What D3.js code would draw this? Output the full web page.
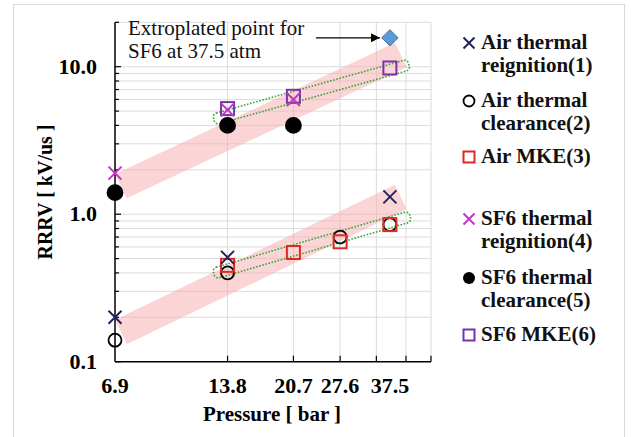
<!DOCTYPE html>
<html>
<head>
<meta charset="utf-8">
<script src="https://cdn.jsdelivr.net/npm/d3@7"></script>
<style>
  html, body { margin: 0; padding: 0; background: #fff; }
  svg { display: block; }
  text { font-family: "Liberation Serif", "Times New Roman", serif; }
</style>
</head>
<body>
<svg id="chart" width="631" height="437"></svg>
<script>
// ---------- data ----------
const gridPressures = [6.9, 13.8, 20.7, 27.6, 34.5, 41.4, 48.3];
const xTickLabels = [6.9, 13.8, 20.7, 27.6, 37.5];
const yTickLabels = [0.1, 1.0, 10.0];
const yMinorTicks = [0.2,0.3,0.4,0.5,0.6,0.7,0.8,0.9,1,2,3,4,5,6,7,8,9,10,20];

const airReignitionP = [6.9, 13.8, 37.5];
const airReignitionV = [0.2, 0.51, 1.31];
const airClearanceP = [6.9, 13.8, 27.6, 37.5];
const airClearanceV = [0.14, 0.40, 0.70, 0.85];
const airMKEP = [13.8, 20.7, 27.6, 37.5];
const airMKEV = [0.45, 0.55, 0.65, 0.85];
const sf6ReignitionP = [6.9, 13.8, 20.7];
const sf6ReignitionV = [1.9, 5.1, 6.0];
const sf6ClearanceP = [6.9, 13.8, 20.7];
const sf6ClearanceV = [1.4, 4.0, 4.0];
const sf6MKEP = [13.8, 20.7, 37.5];
const sf6MKEV = [5.2, 6.3, 9.8];
const extrapolatedP = [37.5];
const extrapolatedV = [15.7];

// trend bands (pink) and groupings (green dotted), endpoints in data units
const bandStartP = [7.16, 7.16];
const bandStartV = [1.55, 0.159];
const bandEndP = [40.1, 40.1];
const bandEndV = [12.0, 1.31];
const groupStartP = [13.1, 13.1];
const groupStartV = [4.49, 0.405];
const groupEndP = [40.8, 41.1];
const groupEndV = [10.1, 0.943];

const legendLabels = [
  ["Air thermal", "reignition(1)"],
  ["Air thermal", "clearance(2)"],
  ["Air MKE(3)"],
  ["SF6 thermal", "reignition(4)"],
  ["SF6 thermal", "clearance(5)"],
  ["SF6 MKE(6)"]
];

// ---------- chart ----------
const svg = d3.select("#chart");
const x = d3.scaleLog().domain([6.9, 48.3]).range([115, 431]);
const y = d3.scaleLog().domain([0.1, 20]).range([361.7, 22.3]);

// outer frame
svg.append("rect").attr("x", 13.5).attr("y", 4.5).attr("width", 611).attr("height", 440)
  .attr("fill", "none").attr("stroke", "#d9d9d9").attr("stroke-width", 1);

// gridlines
svg.append("g").selectAll("line").data(yMinorTicks).join("line")
  .attr("x1", x(6.9)).attr("x2", x(48.3))
  .attr("y1", d => y(d)).attr("y2", d => y(d))
  .attr("stroke", "#dcdcdc").attr("stroke-width", 1);
svg.append("g").selectAll("line").data(gridPressures.slice(1)).join("line")
  .attr("x1", d => x(d)).attr("x2", d => x(d))
  .attr("y1", y(20)).attr("y2", y(0.1))
  .attr("stroke", "#dcdcdc").attr("stroke-width", 1);

// pink bands
svg.append("g").selectAll("line").data(d3.range(bandStartP.length)).join("line")
  .attr("x1", i => x(bandStartP[i])).attr("y1", i => y(bandStartV[i]))
  .attr("x2", i => x(bandEndP[i])).attr("y2", i => y(bandEndV[i]))
  .attr("stroke", "rgb(248,172,174)").attr("stroke-opacity", 0.5)
  .attr("stroke-width", 27).attr("stroke-linecap", "butt");

// green dotted capsules
const capH = 11;
d3.range(groupStartP.length).forEach(i => {
  const x0 = x(groupStartP[i]), y0 = y(groupStartV[i]);
  const x1 = x(groupEndP[i]), y1 = y(groupEndV[i]);
  const L = Math.hypot(x1 - x0, y1 - y0);
  const ang = Math.atan2(y1 - y0, x1 - x0) * 180 / Math.PI;
  svg.append("rect")
    .attr("transform", `translate(${x0},${y0}) rotate(${ang})`)
    .attr("x", -capH / 2).attr("y", -capH / 2)
    .attr("width", L + capH).attr("height", capH)
    .attr("rx", 4)
    .attr("fill", "none").attr("stroke", "#3aa23a").attr("stroke-width", 1.6)
    .attr("stroke-dasharray", "1.6,1.6");
});

// axes
const axisG = svg.append("g");
axisG.append("line").attr("x1", x(6.9)).attr("x2", x(6.9)).attr("y1", y(20)).attr("y2", y(0.1))
  .attr("stroke", "#000").attr("stroke-width", 1.5);
axisG.append("line").attr("x1", x(6.9)).attr("x2", x(48.3)).attr("y1", y(0.1)).attr("y2", y(0.1))
  .attr("stroke", "#000").attr("stroke-width", 1.5);
axisG.selectAll(".yt").data(yMinorTicks.concat([0.1])).join("line")
  .attr("x1", x(6.9)).attr("x2", d => x(6.9) + ([0.1,1,10].includes(d) ? 6 : 4))
  .attr("y1", d => y(d)).attr("y2", d => y(d))
  .attr("stroke", "#000").attr("stroke-width", 1.2);
axisG.selectAll(".xt").data(gridPressures.slice(1)).join("line")
  .attr("x1", d => x(d)).attr("x2", d => x(d))
  .attr("y1", y(0.1)).attr("y2", y(0.1) - 6)
  .attr("stroke", "#000").attr("stroke-width", 1.2);

// tick labels
svg.append("g").selectAll("text").data(yTickLabels).join("text")
  .attr("x", 97).attr("y", d => y(d) + 7)
  .attr("text-anchor", "end").attr("font-weight", "bold").attr("font-size", 22)
  .text(d => d.toFixed(1));
svg.append("g").selectAll("text").data(xTickLabels).join("text")
  .attr("x", d => x(d)).attr("y", 393)
  .attr("text-anchor", "middle").attr("font-weight", "bold").attr("font-size", 22)
  .text(d => d.toFixed(1));

// axis titles
svg.append("text").attr("x", 272).attr("y", 421).attr("text-anchor", "middle")
  .attr("font-weight", "bold").attr("font-size", 21).text("Pressure [ bar ]");
svg.append("text").attr("transform", "translate(52,192) rotate(-90)").attr("text-anchor", "middle")
  .attr("font-weight", "bold").attr("font-size", 20).text("RRRV [ kV/us ]");

// marker drawing helpers
function cross(g, cx, cy, color, s = 6.5) {
  g.append("path").attr("d", `M${cx - s},${cy - s}L${cx + s},${cy + s}M${cx - s},${cy + s}L${cx + s},${cy - s}`)
    .attr("stroke", color).attr("stroke-width", 2).attr("fill", "none");
}
function circle(g, cx, cy, filled, r = 6.5) {
  g.append("circle").attr("cx", cx).attr("cy", cy).attr("r", filled ? 7.5 : r)
    .attr("fill", filled ? "#000" : "none").attr("stroke", "#000").attr("stroke-width", 1.8);
}
function square(g, cx, cy, color, s = 6.5) {
  g.append("rect").attr("x", cx - s).attr("y", cy - s).attr("width", 2 * s).attr("height", 2 * s)
    .attr("fill", "none").attr("stroke", color).attr("stroke-width", 2);
}

const marks = svg.append("g");
const C_AIRX = "#23235f", C_SF6X = "#c533c8", C_RED = "#dd2b22", C_PURPLE = "#7a32a8";
sf6ClearanceP.forEach((p, i) => circle(marks, x(p), y(sf6ClearanceV[i]), true));
airClearanceP.forEach((p, i) => circle(marks, x(p), y(airClearanceV[i]), false));
airMKEP.forEach((p, i) => square(marks, x(p), y(airMKEV[i]), C_RED));
airReignitionP.forEach((p, i) => cross(marks, x(p), y(airReignitionV[i]), C_AIRX));
sf6MKEP.forEach((p, i) => square(marks, x(p), y(sf6MKEV[i]), C_PURPLE));
sf6ReignitionP.forEach((p, i) => cross(marks, x(p), y(sf6ReignitionV[i]), C_SF6X));
extrapolatedP.forEach((p, i) => {
  marks.append("path").attr("d", d3.symbol().type(d3.symbolDiamond2).size(170)())
    .attr("transform", `translate(${x(p)},${y(extrapolatedV[i])})`)
    .attr("fill", "#5b9bd5").attr("stroke", "#41719c").attr("stroke-width", 1);
});

// annotation
svg.append("defs").append("marker").attr("id", "ah").attr("viewBox", "0 0 10 10")
  .attr("refX", 10).attr("refY", 5).attr("markerWidth", 7).attr("markerHeight", 7)
  .attr("orient", "auto").append("path").attr("d", "M0,0L10,5L0,10z").attr("fill", "#000");
const ax = x(extrapolatedP[0]), ay = y(extrapolatedV[0]);
svg.append("line").attr("x1", ax - 74).attr("x2", ax - 10).attr("y1", ay).attr("y2", ay)
  .attr("stroke", "#000").attr("stroke-width", 1.3).attr("marker-end", "url(#ah)");
const ann = svg.append("text").attr("font-size", 21).attr("fill", "#111");
ann.append("tspan").attr("x", 128).attr("y", 35).text("Extroplated point for");
ann.append("tspan").attr("x", 128).attr("y", 58).text("SF6 at 37.5 atm");

// legend
const legY = [49, 107, 163, 225, 284, 341];
const leg = svg.append("g");
legendLabels.forEach((lines, i) => {
  const t = leg.append("text").attr("font-weight", "bold").attr("font-size", 21).attr("fill", "#111");
  lines.forEach((ln, j) => t.append("tspan").attr("x", 481).attr("y", legY[i] + j * 23).text(ln));
});
const lm = legY.map(v => v - 6);
cross(leg, 469, lm[0], C_AIRX, 5.5);
circle(leg, 469, lm[1], false, 5.5);
square(leg, 469, lm[2], C_RED, 5.5);
cross(leg, 469, lm[3], C_SF6X, 5.5);
leg.append("circle").attr("cx", 469).attr("cy", lm[4]).attr("r", 6).attr("fill", "#000");
square(leg, 469, lm[5], C_PURPLE, 5.5);
</script>
</body>
</html>
